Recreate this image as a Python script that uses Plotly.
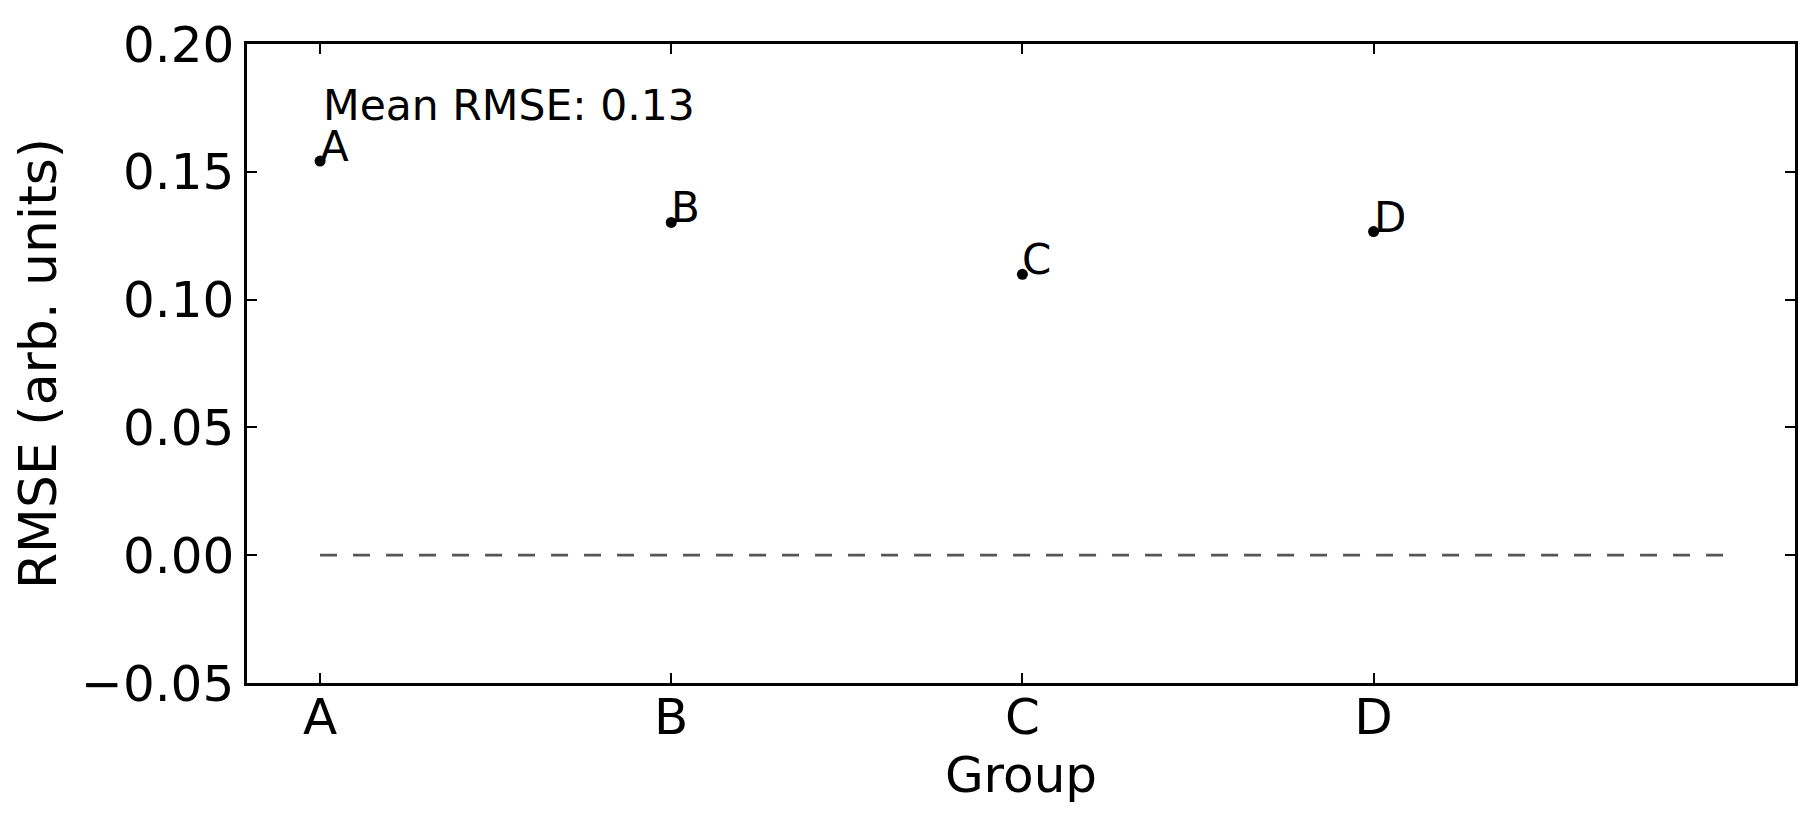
import plotly.graph_objects as go

groups = ["A", "B", "C", "D"]
rmse = [0.1542, 0.1302, 0.1099, 0.1266]
x_pos = [0, 1, 2, 3]
ref_x = [0, 4]
ref_y = [0.0, 0.0]
y_ticks = [-0.05, 0.0, 0.05, 0.10, 0.15, 0.20]
y_ticktext = ["\u22120.05", "0.00", "0.05", "0.10", "0.15", "0.20"]
mean_rmse = sum(rmse) / len(rmse)

FONT = "DejaVu Sans"

fig = go.Figure()
fig.add_trace(go.Scatter(x=ref_x, y=ref_y, mode="lines",
                         line=dict(color="#555555", width=2.8, dash="17px,16px"),
                         showlegend=False, hoverinfo="skip"))
fig.add_trace(go.Scatter(x=x_pos, y=rmse, mode="markers",
                         marker=dict(color="black", size=11),
                         showlegend=False))

for xi, yi, g in zip(x_pos, rmse, groups):
    fig.add_annotation(x=xi, y=yi, text=g, showarrow=False,
                       xanchor="left", yanchor="bottom", xshift=-2, yshift=-12,
                       font=dict(family=FONT, size=42, color="black"))

fig.add_annotation(x=0, y=0.17, text=f"Mean RMSE: {mean_rmse:.2f}", showarrow=False,
                   xanchor="left", yanchor="bottom", xshift=1, yshift=-11,
                   font=dict(family=FONT, size=42.5, color="black"))

fig.update_xaxes(range=[-0.208, 4.2], tickvals=x_pos, ticktext=groups,
                 ticks="inside", ticklen=10, tickwidth=1.5, tickcolor="black",
                 ticklabelstandoff=-12,
                 showline=True, linewidth=2.5, linecolor="black", mirror="ticks",
                 showgrid=False, zeroline=False,
                 tickfont=dict(family=FONT, size=50, color="black"),
                 title=dict(text="Group", font=dict(family=FONT, size=50, color="black"), standoff=10))
fig.update_yaxes(range=[-0.05, 0.20], tickvals=y_ticks, ticktext=y_ticktext,
                 ticks="inside", ticklen=10, tickwidth=1.5, tickcolor="black",
                 showline=True, linewidth=2.5, linecolor="black", mirror="ticks",
                 showgrid=False, zeroline=False,
                 tickfont=dict(family=FONT, size=50, color="black"),
                 title=dict(text="RMSE (arb. units)", font=dict(family=FONT, size=52, color="black"), standoff=13))

fig.update_layout(width=1816, height=825, plot_bgcolor="white", paper_bgcolor="white",
                  margin=dict(l=239, r=29, t=36, b=150, autoexpand=False),
                  font=dict(family=FONT))
fig.write_html("out.html")
